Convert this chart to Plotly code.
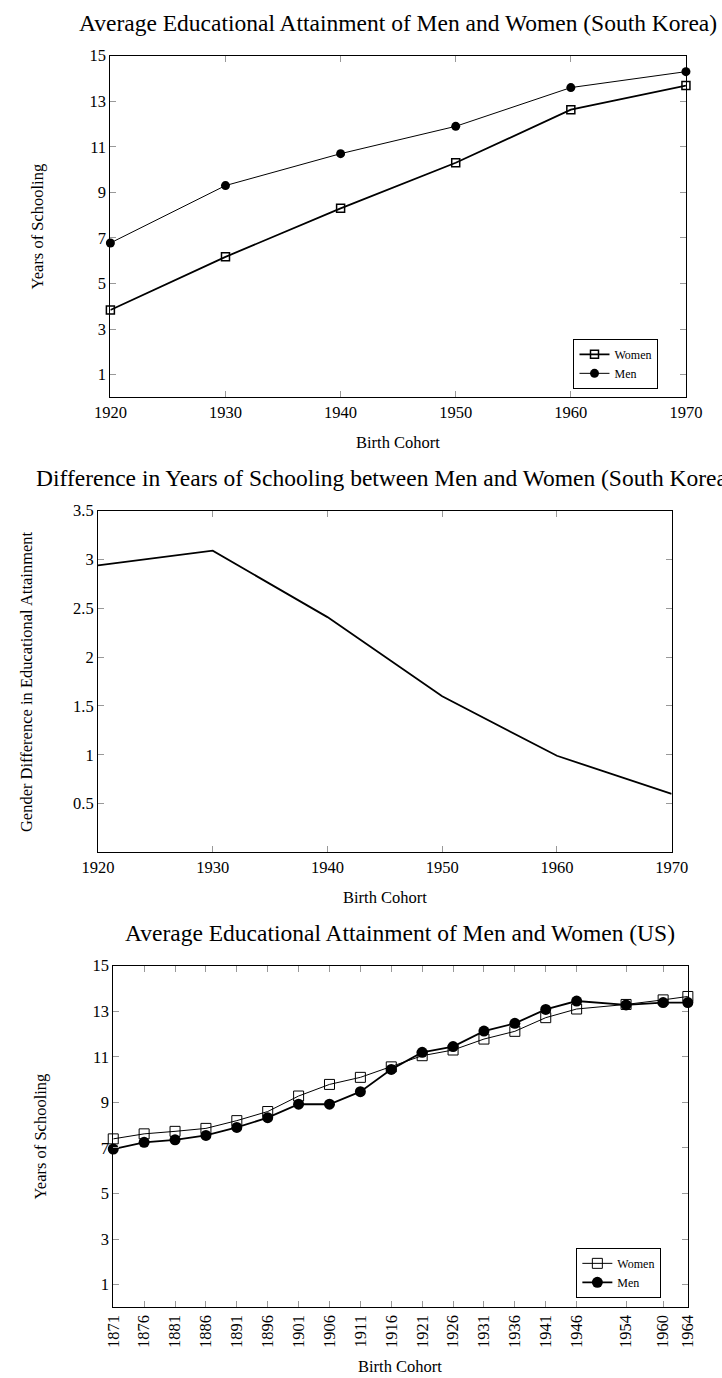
import plotly.graph_objects as go

W, H = 722, 1378

# --- South Korea ---
kr_years = [1920, 1930, 1940, 1950, 1960, 1970]
kr_women = [3.84, 6.17, 8.3, 10.3, 12.63, 13.69]
kr_men = [6.78, 9.3, 10.7, 11.9, 13.6, 14.3]
kr_diff = [2.94, 3.09, 2.41, 1.6, 0.99, 0.6]

# --- US ---
us_years = [1871, 1876, 1881, 1886, 1891, 1896, 1901, 1906, 1911, 1916,
            1921, 1926, 1931, 1936, 1941, 1946, 1954, 1960, 1964]
us_women = [7.4, 7.62, 7.73, 7.86, 8.2, 8.6, 9.28, 9.79, 10.1, 10.56,
            11.05, 11.3, 11.78, 12.12, 12.72, 13.1, 13.3, 13.5, 13.65]
us_men = [6.95, 7.25, 7.36, 7.55, 7.9, 8.33, 8.92, 8.92, 9.47, 10.45,
          11.2, 11.45, 12.13, 12.47, 13.08, 13.45, 13.28, 13.38, 13.38]

yticks_school = [1, 3, 5, 7, 9, 11, 13, 15]
yticks_diff = [0.5, 1, 1.5, 2, 2.5, 3, 3.5]

FONT = "Liberation Serif, Times New Roman, serif"


def px(x):
    return x / W


def py(y):
    return 1 - y / H


fig = go.Figure()

# Panel 1
fig.add_trace(go.Scatter(x=kr_years, y=kr_women, name="Women", mode="lines+markers",
                         line=dict(color="black", width=1.8),
                         marker=dict(symbol="square-open", size=8, color="black", line=dict(width=1.5)),
                         cliponaxis=False, xaxis="x", yaxis="y", legend="legend"))
fig.add_trace(go.Scatter(x=kr_years, y=kr_men, name="Men", mode="lines+markers",
                         line=dict(color="black", width=1),
                         marker=dict(symbol="circle", size=9, color="black"),
                         cliponaxis=False, xaxis="x", yaxis="y", legend="legend"))

# Panel 2
fig.add_trace(go.Scatter(x=kr_years, y=kr_diff, mode="lines", showlegend=False,
                         line=dict(color="black", width=1.8),
                         xaxis="x2", yaxis="y2"))

# Panel 3
fig.add_trace(go.Scatter(x=us_years, y=us_women, name="Women", mode="lines+markers",
                         line=dict(color="black", width=1),
                         marker=dict(symbol="square-open", size=10, color="black", line=dict(width=1)),
                         cliponaxis=False, xaxis="x3", yaxis="y3", legend="legend2"))
fig.add_trace(go.Scatter(x=us_years, y=us_men, name="Men", mode="lines+markers",
                         line=dict(color="black", width=1.8),
                         marker=dict(symbol="circle", size=11, color="black"),
                         cliponaxis=False, xaxis="x3", yaxis="y3", legend="legend2"))

axis_common = dict(showline=True, linecolor="black", linewidth=1, mirror="allticks",
                   ticks="inside", ticklen=6, tickcolor="#999", tickwidth=1,
                   showgrid=False, zeroline=False,
                   tickfont=dict(family=FONT, size=16.5, color="black"))

legend_common = dict(xanchor="left", yanchor="top", bordercolor="black", borderwidth=1,
                     bgcolor="white", font=dict(family=FONT, size=12),
                     tracegroupgap=0, itemwidth=30)

fig.update_layout(
    width=W, height=H,
    margin=dict(l=0, r=0, t=0, b=0),
    paper_bgcolor="white", plot_bgcolor="white",
    font=dict(family=FONT, color="black"),
    xaxis=dict(domain=[px(98), px(702)], range=[1920, 1970], tickvals=kr_years, anchor="y", **axis_common),
    yaxis=dict(domain=[py(391), py(47)], range=[0, 15], tickvals=yticks_school, anchor="x", **axis_common),
    xaxis2=dict(domain=[px(85), px(687)], range=[1920, 1970], tickvals=kr_years, anchor="y2", **axis_common),
    yaxis2=dict(domain=[py(849), py(505)], range=[0, 3.5], tickvals=yticks_diff, anchor="x2", **axis_common),
    xaxis3=dict(domain=[px(101), px(704)], range=[1871, 1964], tickvals=us_years, tickangle=-90,
                anchor="y3", **axis_common),
    yaxis3=dict(domain=[py(1307), py(963)], range=[0, 15], tickvals=yticks_school, anchor="x3", **axis_common),
    legend=dict(x=px(584), y=py(332), **legend_common),
    legend2=dict(x=px(587), y=py(1247), **legend_common),
)

texts = [
    ("Average Educational Attainment of Men and Women (South Korea)", 400, 14, 23.5, 0),
    ("Birth Cohort", 400, 436, 16.5, 0),
    ("Difference in Years of Schooling between Men and Women (South Korea)", 387, 472, 23.5, 0),
    ("Birth Cohort", 386, 894, 16.5, 0),
    ("Average Educational Attainment of Men and Women (US)", 402, 930, 23.5, 0),
    ("Birth Cohort", 402, 1366, 16.5, 0),
    ("Years of Schooling", 22, 219, 16.5, -90),
    ("Gender Difference in Educational Attainment", 10, 677, 16.5, -90),
    ("Years of Schooling", 25, 1135, 16.5, -90),
]
for t, x, y, s, a in texts:
    fig.add_annotation(text=t, x=px(x), y=py(y), xref="paper", yref="paper",
                       xanchor="center", yanchor="middle", showarrow=False,
                       textangle=a, font=dict(family=FONT, size=s, color="black"))

# drop the default page margin so the figure sits flush in the window
fig.write_html("out.html", config={"displayModeBar": False},
               post_script="document.body.style.margin='0';"
                           "document.body.style.overflow='hidden';")
